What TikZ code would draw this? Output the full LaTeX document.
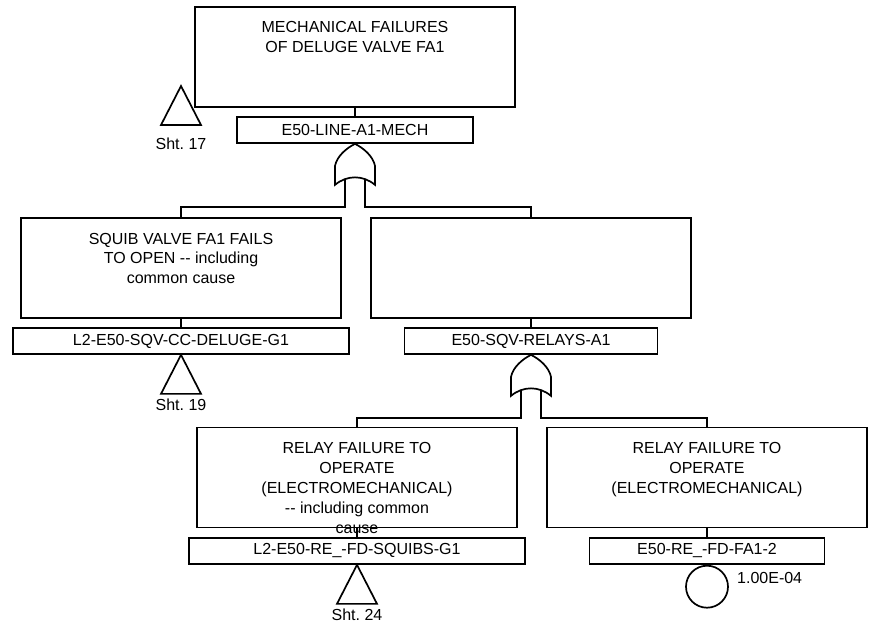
\documentclass[tikz,border=0pt]{standalone}
\usepackage{fontspec}
\setmainfont{Liberation Sans}
\usetikzlibrary{positioning}
\newcommand{\desc}[1]{\parbox[c][100pt][t]{316pt}{\vspace*{12pt}\centering\strut #1\par}}
\newcommand{\dd}{-\kern0pt-}
\tikzset{
	descbox/.style={draw, line width=1.7pt, minimum width=320pt, minimum height=100pt, inner sep=0pt},
	idbox/.style={draw, line width=1.7pt, minimum height=26pt, inner sep=0pt},
	wire/.style={line width=1.7pt},
	orgate/.pic={
		\draw[wire] (0,0) .. controls (8,4) and (18,12) .. (20,22) -- (20,41)
		.. controls (8,31) and (-8,31) .. (-20,41) -- (-20,22)
		.. controls (-18,12) and (-8,4) .. cycle;
		\coordinate (-l) at (-10,36);
		\coordinate (-r) at (10,36);
	},
	xfer/.pic={
		\draw[wire] (0,0) -- (20,39) -- (-20,39) -- cycle;
	},
}

\begin{document}
\begin{tikzpicture}[x=1pt, y=-1pt, font=\fontsize{16}{20}\selectfont]
			\useasboundingbox (0,0) rectangle (873,631);
			% Ereignisse
			\node[descbox] (mech) at (355,57) {\desc{MECHANICAL FAILURES\\OF DELUGE VALVE FA1}};
			\node[idbox, minimum width=236pt] (mechid) at (355,130) {E50-LINE-A1-MECH};
			\node[descbox] (sqv) at (181,268) {\desc{SQUIB VALVE FA1 FAILS\\TO OPEN \dd{} including\\common cause}};
			\node[idbox, minimum width=336pt] (sqvid) at (181,341) {L2-E50-SQV-CC-DELUGE-G1};
			\node[descbox] (relays) at (531,268) {\desc{}};
			\node[idbox, minimum width=253pt] (relaysid) at (531,341) {E50-SQV-RELAYS-A1};
			\node[descbox] (relcc) at (357,477.5) {\desc{RELAY FAILURE TO\\OPERATE\\(ELECTROMECHANICAL)\\\dd{} including common\\cause}};
			\node[idbox, minimum width=336pt] (relccid) at (357,551) {L2-E50-RE\_-FD-SQUIBS-G1};
			\node[descbox] (relfa) at (707,477.5) {\desc{RELAY FAILURE TO\\OPERATE\\(ELECTROMECHANICAL)}};
			\node[idbox, minimum width=235pt] (relfaid) at (707,551) {E50-RE\_-FD-FA1-2};
			\node[draw, circle, line width=1.7pt, minimum size=42pt, inner sep=0pt, anchor=north] (basic) at (relfaid.south) {};
			\node[anchor=base west, inner sep=0pt] (prob) at (737,583) {1.00E-04};
			
			% Transfers
			\pic (t17) at (181,86) {xfer};
			\node[anchor=base, inner sep=0pt] (s17) at (181,150) {Sht.\ 17};
			\pic (t19) at (sqvid.south) {xfer};
			\node[anchor=base, inner sep=0pt] (s19) at (181,410) {Sht.\ 19};
			\pic (t24) at (relccid.south) {xfer};
			\node[anchor=base, inner sep=0pt] (s24) at (357,620) {Sht.\ 24};
			
			% Gatter
			\draw[wire] (mech.south) -- (mechid.north);
			\pic (g1) at (mechid.south) {orgate};
			\draw[wire] (g1-l) -- ++(0,27) -| (sqv.north);
			\draw[wire] (g1-r) -- ++(0,27) -| (relays.north);
			\draw[wire] (sqv.south) -- (sqvid.north);
			\draw[wire] (relays.south) -- (relaysid.north);
			\pic (g2) at (relaysid.south) {orgate};
			\draw[wire] (g2-l) -- ++(0,27) -| (relcc.north);
			\draw[wire] (g2-r) -- ++(0,27) -| (relfa.north);
			\draw[wire] (relcc.south) -- (relccid.north);
			\draw[wire] (relfa.south) -- (relfaid.north);
		\end{tikzpicture}
\end{document}
